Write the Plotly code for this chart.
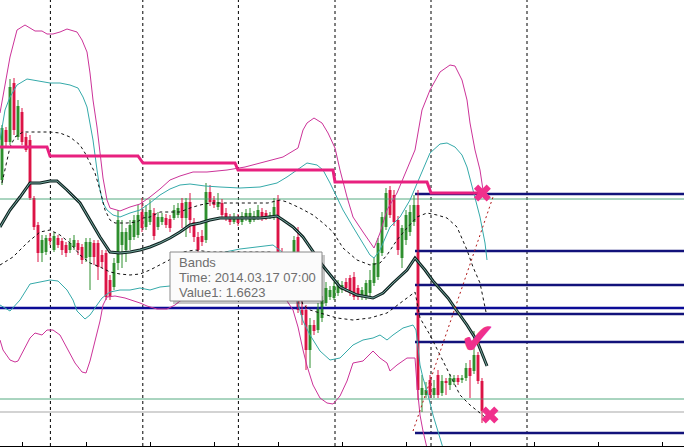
import plotly.graph_objects as go

# ---------------- data ----------------
bars = list(range(121))
open_ = [1.6620,1.6670,1.6658,1.6717,1.6663,1.6688,1.6663,1.6660,1.6602,1.6575,
         1.6547,1.6548,1.6562,1.6550,1.6562,1.6559,1.6555,1.6550,1.6553,1.6557,
         1.6553,1.6542,1.6543,1.6557,1.6557,1.6545,1.6547,1.6520,1.6513,1.6537,
         1.6555,1.6550,1.6560,1.6563,1.6565,1.6588,1.6573,1.6578,1.6587,1.6573,
         1.6578,1.6582,1.6581,1.6582,1.6585,1.6597,1.6582,1.6598,1.6578,1.6563,
         1.6564,1.6560,1.6608,1.6600,1.6593,1.6597,1.6587,1.6583,1.6578,1.6582,
         1.6578,1.6582,1.6578,1.6580,1.6583,1.6588,1.6587,1.6583,1.6583,1.6600,
         1.6548,1.6532,1.6510,1.6532,1.6563,1.6490,1.6490,1.6450,1.6475,1.6470,
         1.6482,1.6497,1.6503,1.6502,1.6507,1.6510,1.6518,1.6522,1.6523,1.6512,
         1.6503,1.6503,1.6507,1.6517,1.6523,1.6547,1.6573,1.6610,1.6605,1.6580,
         1.6542,1.6560,1.6568,1.6578,1.6595,1.6405,1.6405,1.6420,1.6405,1.6425,
         1.6407,1.6418,1.6415,1.6418,1.6422,1.6420,1.6422,1.6432,1.6429,1.6445,
         1.6419]
close = [1.6672,1.6658,1.6713,1.6670,1.6694,1.6658,1.6650,1.6602,1.6573,1.6547,
         1.6560,1.6562,1.6559,1.6564,1.6555,1.6550,1.6547,1.6557,1.6560,1.6550,
         1.6540,1.6558,1.6558,1.6543,1.6533,1.6538,1.6503,1.6503,1.6537,1.6580,
         1.6568,1.6568,1.6575,1.6580,1.6585,1.6572,1.6588,1.6590,1.6564,1.6583,
         1.6583,1.6575,1.6572,1.6590,1.6592,1.6582,1.6598,1.6580,1.6563,1.6550,
         1.6558,1.6608,1.6598,1.6595,1.6598,1.6585,1.6582,1.6578,1.6583,1.6577,
         1.6584,1.6587,1.6587,1.6584,1.6590,1.6582,1.6583,1.6585,1.6593,1.6545,
         1.6528,1.6510,1.6535,1.6560,1.6490,1.6485,1.6450,1.6475,1.6469,1.6492,
         1.6500,1.6512,1.6510,1.6514,1.6516,1.6515,1.6512,1.6507,1.6503,1.6503,
         1.6510,1.6517,1.6520,1.6537,1.6557,1.6583,1.6607,1.6585,1.6578,1.6550,
         1.6572,1.6585,1.6588,1.6595,1.6410,1.6412,1.6410,1.6405,1.6412,1.6405,
         1.6419,1.6417,1.6422,1.6422,1.6418,1.6422,1.6432,1.6424,1.6445,1.6419,
         1.6389]
high = [1.6675,1.6673,1.6721,1.6722,1.6700,1.6692,1.6667,1.6665,1.6604,1.6578,
        1.6565,1.6565,1.6567,1.6568,1.6565,1.6562,1.6558,1.6562,1.6565,1.6560,
        1.6556,1.6562,1.6562,1.6560,1.6560,1.6550,1.6550,1.6525,1.6542,1.6590,
        1.6580,1.6572,1.6580,1.6585,1.6595,1.6602,1.6595,1.6600,1.6592,1.6588,
        1.6587,1.6586,1.6585,1.6595,1.6597,1.6602,1.6602,1.6607,1.6582,1.6568,
        1.6570,1.6617,1.6615,1.6604,1.6607,1.6601,1.6592,1.6586,1.6587,1.6586,
        1.6588,1.6591,1.6592,1.6589,1.6595,1.6592,1.6590,1.6588,1.6602,1.6605,
        1.6552,1.6535,1.6540,1.6564,1.6573,1.6502,1.6495,1.6482,1.6480,1.6497,
        1.6504,1.6518,1.6514,1.6518,1.6520,1.6519,1.6522,1.6525,1.6528,1.6515,
        1.6513,1.6520,1.6530,1.6542,1.6562,1.6588,1.6612,1.6614,1.6610,1.6584,
        1.6575,1.6590,1.6595,1.6605,1.6610,1.6425,1.6418,1.6425,1.6420,1.6430,
        1.6425,1.6422,1.6426,1.6425,1.6425,1.6425,1.6437,1.6440,1.6469,1.6448,
        1.6422]
low = [1.6615,1.6654,1.6655,1.6665,1.6660,1.6655,1.6648,1.6600,1.6570,1.6538,
       1.6538,1.6545,1.6555,1.6548,1.6552,1.6545,1.6543,1.6547,1.6550,1.6545,
       1.6536,1.6538,1.6510,1.6535,1.6520,1.6532,1.6500,1.6500,1.6510,1.6530,
       1.6532,1.6538,1.6550,1.6560,1.6562,1.6568,1.6570,1.6575,1.6560,1.6570,
       1.6575,1.6572,1.6568,1.6580,1.6582,1.6572,1.6563,1.6567,1.6558,1.6545,
       1.6554,1.6557,1.6594,1.6592,1.6590,1.6582,1.6579,1.6575,1.6576,1.6574,
       1.6575,1.6579,1.6576,1.6578,1.6580,1.6579,1.6580,1.6581,1.6580,1.6540,
       1.6524,1.6505,1.6506,1.6528,1.6487,1.6475,1.6430,1.6432,1.6465,1.6467,
       1.6478,1.6494,1.6500,1.6500,1.6504,1.6507,1.6508,1.6504,1.6500,1.6500,
       1.6500,1.6500,1.6504,1.6514,1.6520,1.6544,1.6570,1.6582,1.6574,1.6545,
       1.6532,1.6555,1.6564,1.6574,1.6400,1.6388,1.6402,1.6402,1.6402,1.6402,
       1.6404,1.6405,1.6410,1.6415,1.6415,1.6417,1.6419,1.6402,1.6426,1.6416,
       1.6377]

# Bollinger-type bands (bar position, price)
mid_x = [-0.5,2,4.5,7,9.5,12,13.75,16.25,19.5,22,24.5,27,29.5,32,34.5,37,39.5,42,44.5,47,49.5,52,54.5,59.5,64.5,67,68.75,70.25,72.75,75.25,77.75,80.25,84.5,88.75,92.75,95.25,97.75,101.25,103.25,105.75,107.75,111.5,113.75,116.25,118.75,121.25]
mid_y = [1.6573,1.6590,1.6603,1.6617,1.6617,1.6619,1.6619,1.6610,1.6597,1.6580,1.6563,1.6548,1.6547,1.6548,1.6550,1.6553,1.6557,1.6562,1.6568,1.6575,1.6577,1.6580,1.6582,1.6582,1.6582,1.6583,1.6584,1.6580,1.6573,1.6563,1.6548,1.6534,1.6513,1.6505,1.6502,1.6507,1.6517,1.6530,1.6542,1.6530,1.6519,1.6502,1.6489,1.6475,1.6459,1.6434]

up1_x = [0,2,3.25,5.25,8.25,12,14.5,17,19.5,20.75,22,23.25,24.5,25.75,27,28.25,31.25,33.75,35.25,37,39.5,44.5,47,49.5,52,56.25,61.25,66.5,69.5,71.25,74.5,77.75,80.25,82.75,85.25,88.75,92,94.5,96.25,98.75,101.25,103.75,106.25,108.75,111.25,113.75,116.25,117.75,119.5,120.25,121]
up1_y = [1.6617,1.6653,1.6663,1.6668,1.6668,1.6668,1.6667,1.6663,1.6655,1.6647,1.6637,1.6627,1.6610,1.6590,1.6580,1.6577,1.6577,1.6578,1.6582,1.6583,1.6588,1.6588,1.6592,1.6595,1.6597,1.6597,1.6597,1.6597,1.6600,1.6598,1.6592,1.6585,1.6577,1.6568,1.6552,1.6540,1.6535,1.6537,1.6545,1.6560,1.6572,1.6583,1.6587,1.6585,1.6582,1.6573,1.6550,1.6533,1.6517,1.6503,1.6488]

dn1_x = [-0.5,2.75,6.25,9.5,12,14.5,17,19.5,22,24.5,27,29.5,32,34.5,37,39.5,42.75,45.25,48.25,52,59.5,67,69.5,72,73.75,75.25,77,79.5,83.75,87.75,92,96.25,99.5,102,103.25,104.5,107,109.5,112,114.5,117,119.5,120.75]
dn1_y = [1.6535,1.6543,1.6557,1.6568,1.6570,1.6565,1.6557,1.6545,1.6537,1.6533,1.6528,1.6526,1.6525,1.6526,1.6530,1.6535,1.6542,1.6548,1.6550,1.6548,1.6548,1.6548,1.6546,1.6535,1.6515,1.6495,1.6490,1.6487,1.6482,1.6480,1.6482,1.6487,1.6497,1.6504,1.6508,1.6482,1.6465,1.6445,1.6425,1.6405,1.6395,1.6387,1.6383]

up2_x = [-0.5,0.75,2,3.75,6.25,8.75,12,14.5,17,19,20.25,21.25,22,22.75,23.75,24.5,25.25,26.25,27.75,29.5,32,34.5,37,39.5,42,44.5,47,50.75,54.5,59.5,64.5,68.75,71.25,73.75,76.25,78.75,80.25,82,83.75,85.25,87.75,90.25,92,93,94.5,97,99.5,102,104.5,107,109.5,111.25,113.25,115,116.25,117.75,119.5,120.75,121.25]
up2_y = [1.6660,1.6690,1.6703,1.6715,1.6721,1.6719,1.6717,1.6717,1.6715,1.6712,1.6703,1.6693,1.6677,1.6660,1.6630,1.6610,1.6597,1.6590,1.6585,1.6583,1.6587,1.6590,1.6597,1.6605,1.6611,1.6615,1.6616,1.6614,1.6613,1.6612,1.6613,1.6617,1.6623,1.6630,1.6637,1.6635,1.6630,1.6617,1.6603,1.6590,1.6573,1.6557,1.6545,1.6542,1.6550,1.6573,1.6583,1.6600,1.6623,1.6647,1.6656,1.6657,1.6653,1.6645,1.6633,1.6610,1.6583,1.6557,1.6540]

dn2_x = [-0.5,2,4.5,7,9.5,12,14,16.25,17.75,18.75,20.75,22,23.75,25,27,29.5,32,34.5,37,39.5,42,44.5,48.25,52,55.75,59.5,64.5,67.75,70,72,73.75,75.25,77,79.5,82,84.5,87.75,90.25,92.75,94.5,96.25,97.75,100.25,102.75,103.5,104.5,105.25,106.25,107.75,110.25]
dn2_y = [1.6495,1.6489,1.6500,1.6516,1.6518,1.6520,1.6519,1.6510,1.6500,1.6489,1.6481,1.6485,1.6495,1.6502,1.6508,1.6510,1.6510,1.6512,1.6510,1.6513,1.6514,1.6518,1.6528,1.6538,1.6548,1.6551,1.6553,1.6555,1.6548,1.6530,1.6500,1.6479,1.6465,1.6449,1.6440,1.6442,1.6455,1.6460,1.6462,1.6465,1.6460,1.6465,1.6472,1.6475,1.6470,1.6435,1.6422,1.6409,1.6385,1.6352]

up3_x = [-0.5,0.75,2,3.75,5.75,7,8.25,10,11.25,12.75,14.5,16.25,18.75,20,21.25,22,22.75,23.75,24.5,25.25,26.25,27,29.5,32,34.5,37,39.5,42,44.5,47.75,51.25,56.25,60.75,64.5,67.5,70.25,74,75.25,76.25,78,80,81.5,83.25,84.5,86.25,87.75,90.25,92,93,94.5,96.25,98.75,101.25,103.25,105,107,109.5,112,113.25,115,116.25,117,118.25,119.5,120.25]
up3_y = [1.6687,1.6717,1.6743,1.6770,1.6775,1.6772,1.6769,1.6769,1.6766,1.6766,1.6768,1.6771,1.6768,1.6760,1.6748,1.6727,1.6700,1.6673,1.6650,1.6622,1.6600,1.6592,1.6589,1.6593,1.6596,1.6603,1.6611,1.6620,1.6624,1.6628,1.6628,1.6630,1.6633,1.6637,1.6640,1.6643,1.6652,1.6670,1.6677,1.6682,1.6677,1.6667,1.6652,1.6630,1.6603,1.6583,1.6568,1.6557,1.6552,1.6567,1.6590,1.6607,1.6630,1.6650,1.6690,1.6710,1.6728,1.6735,1.6734,1.6720,1.6700,1.6677,1.6650,1.6630,1.6610]

dn3_x = [-0.5,0.25,2,3.25,4,5.25,7,8.25,10,11.25,12.75,14.5,16.25,18.25,20,21,22,23.25,24.5,25.25,26.25,28.25,30.75,34.5,36.25,38.75,41.25,43.25,44.5,49.5,57,64.5,70.75,72.75,74,75.25,76.25,77.75,79.5,81.25,82.75,84.5,86.25,87.75,90.25,92.75,94.5,96.25,97,98.75,101.25,103.25,103.75,104.5,105.25,106.25]
dn3_y = [1.6460,1.6450,1.6440,1.6438,1.6439,1.6449,1.6462,1.6467,1.6465,1.6470,1.6470,1.6465,1.6452,1.6437,1.6428,1.6427,1.6439,1.6459,1.6479,1.6495,1.6503,1.6504,1.6502,1.6497,1.6494,1.6491,1.6491,1.6495,1.6499,1.6508,1.6515,1.6513,1.6502,1.6490,1.6473,1.6450,1.6434,1.6415,1.6402,1.6397,1.6396,1.6404,1.6419,1.6437,1.6439,1.6449,1.6442,1.6437,1.6429,1.6435,1.6442,1.6442,1.6415,1.6385,1.6369,1.6352]

# daily stop level (step line)
stop_x = [-0.5,11.25,12,34,35.25,58.25,59,82.75,83.25,106.25,107.25,120.25]
stop_y = [1.6653,1.6653,1.6644,1.6644,1.6637,1.6637,1.6630,1.6630,1.6618,1.6618,1.6607,1.6607]

# horizontal levels
full_levels = [1.6492]
right_levels = [1.6606, 1.6549, 1.6515, 1.6486, 1.6458, 1.6367]
right_start = 103.25
green_levels = [1.6601, 1.6401]
gray_levels = [1.6388]

trend_x = [102.75, 122.75]
trend_y = [1.6369, 1.6603]

cross_x = [120.1, 122.0]
cross_y = [1.6607, 1.6385]
check_x = [119.0]
check_y = [1.6457]

grid_bars = [12.1, 35.2, 59.1, 83.25, 107.25, 131.25]
tick_bars = [5, 21, 37, 53, 69, 85, 101, 117, 133, 149, 165]

tip_lines = ["Bands", "Time: 2014.03.17 07:00", "Value1: 1.6623"]

# ---------------- figure ----------------
X_MIN, X_MAX = -0.5, 170.5
Y_MIN, Y_MAX = 1.6354, 1.6800
W, H = 684, 448
MB = 2
PH = H - MB

GREEN = "#2f8f2f"
RED = "#dc1446"
MAG = "#cc3399"
TEAL = "#35aaaa"
NAVY = "#12127a"
PINK = "#e8207f"

fig = go.Figure()

# horizontal levels
for lv in full_levels:
    fig.add_trace(go.Scatter(x=[X_MIN, X_MAX], y=[lv, lv], mode="lines",
                             line=dict(color="#0b0b96", width=2.5), hoverinfo="skip"))
for lv in green_levels:
    fig.add_trace(go.Scatter(x=[X_MIN, X_MAX], y=[lv, lv], mode="lines",
                             line=dict(color="#55aa80", width=1), hoverinfo="skip"))
for lv in gray_levels:
    fig.add_trace(go.Scatter(x=[X_MIN, X_MAX], y=[lv, lv], mode="lines",
                             line=dict(color="#c4c4c4", width=1.5), hoverinfo="skip"))
for lv in right_levels:
    fig.add_trace(go.Scatter(x=[right_start, X_MAX], y=[lv, lv], mode="lines",
                             line=dict(color=NAVY, width=2.5), hoverinfo="skip"))

# candles: wicks
for col, cond in ((GREEN, True), (RED, False)):
    wx, wy = [], []
    for i, o, c, h, l in zip(bars, open_, close, high, low):
        if (c >= o) == cond:
            wx += [i, i, None]
            wy += [h, l, None]
    fig.add_trace(go.Scatter(x=wx, y=wy, mode="lines", line=dict(color=col, width=1),
                             hoverinfo="skip"))
# candles: bodies
base = [min(o, c) for o, c in zip(open_, close)]
hgt = [max(abs(c - o), 0.00012) for o, c in zip(open_, close)]
cols = [GREEN if c >= o else RED for o, c in zip(open_, close)]
fig.add_trace(go.Bar(x=bars, y=hgt, base=base, width=0.72,
                     marker=dict(color=cols, line=dict(width=0)), hoverinfo="skip"))

# bands
def band(xs, ys, color, width=1, dash=None):
    fig.add_trace(go.Scatter(x=xs, y=ys, mode="lines",
                             line=dict(color=color, width=width, dash=dash),
                             hoverinfo="skip"))

band(up3_x, up3_y, MAG)
band(dn3_x, dn3_y, MAG)
band(up2_x, up2_y, TEAL)
band(dn2_x, dn2_y, TEAL)
band(up1_x, up1_y, "#111111", 1, "3px,3px")
band(dn1_x, dn1_y, "#111111", 1, "3px,3px")
band(mid_x, mid_y, "#0f2220", 3.0)
band(mid_x, mid_y, "#7fb5ab", 0.9)

# trend (dotted)
band(trend_x, trend_y, "#b01818", 1, "2px,3px")

# stop step line
band(stop_x, stop_y, PINK, 3)

# signals
fig.add_trace(go.Scatter(x=cross_x, y=cross_y, mode="markers",
                         marker=dict(symbol="x", size=15, color="#f0308c",
                                     line=dict(width=0)), hoverinfo="skip"))
fig.add_trace(go.Scatter(x=check_x, y=check_y, mode="text", text=["✔"],
                         textfont=dict(family="DejaVu Sans", size=44, color="#f0308c"),
                         hoverinfo="skip"))

shapes = []
for gx in grid_bars:
    shapes.append(dict(type="line", xref="x", yref="paper", x0=gx, x1=gx, y0=0, y1=1,
                       line=dict(color="black", width=1, dash="3px,3px"), layer="below"))

# tooltip box (pixel geometry)
def px(xp):
    return xp / W
def py(yp):
    return 1 - yp / PH

shapes.append(dict(type="rect", xref="paper", yref="paper",
                   x0=px(173), x1=px(325), y0=py(304), y1=py(255),
                   fillcolor="rgba(0,0,0,0.22)", line=dict(width=0), layer="above"))
shapes.append(dict(type="rect", xref="paper", yref="paper",
                   x0=px(170), x1=px(322), y0=py(301), y1=py(252),
                   fillcolor="#fbfbfb", line=dict(color="#8a8a8a", width=1), layer="above"))

annotations = []
for k, t in enumerate(tip_lines):
    annotations.append(dict(xref="paper", yref="paper", x=px(177), y=py(262 + 15 * k),
                            xanchor="left", yanchor="middle", text=t, showarrow=False,
                            font=dict(family="Liberation Sans", size=13, color="#6e6e6e")))

fig.update_layout(
    width=W, height=H,
    margin=dict(l=0, r=0, t=0, b=MB),
    paper_bgcolor="white", plot_bgcolor="white",
    showlegend=False, barmode="overlay",
    shapes=shapes, annotations=annotations,
    xaxis=dict(range=[X_MIN, X_MAX], showgrid=False, zeroline=False, showline=True,
               linecolor="black", linewidth=1, ticks="inside", ticklen=4,
               tickcolor="black", tickvals=tick_bars, showticklabels=False, fixedrange=True),
    yaxis=dict(range=[Y_MIN, Y_MAX], showgrid=False, zeroline=False, showline=False,
               showticklabels=False, ticks="", fixedrange=True),
)

fig.write_html("out.html", config={"displayModeBar": False},
               post_script="document.body.style.margin='0';document.body.style.padding='0';"
                           "document.body.style.overflow='hidden';")
